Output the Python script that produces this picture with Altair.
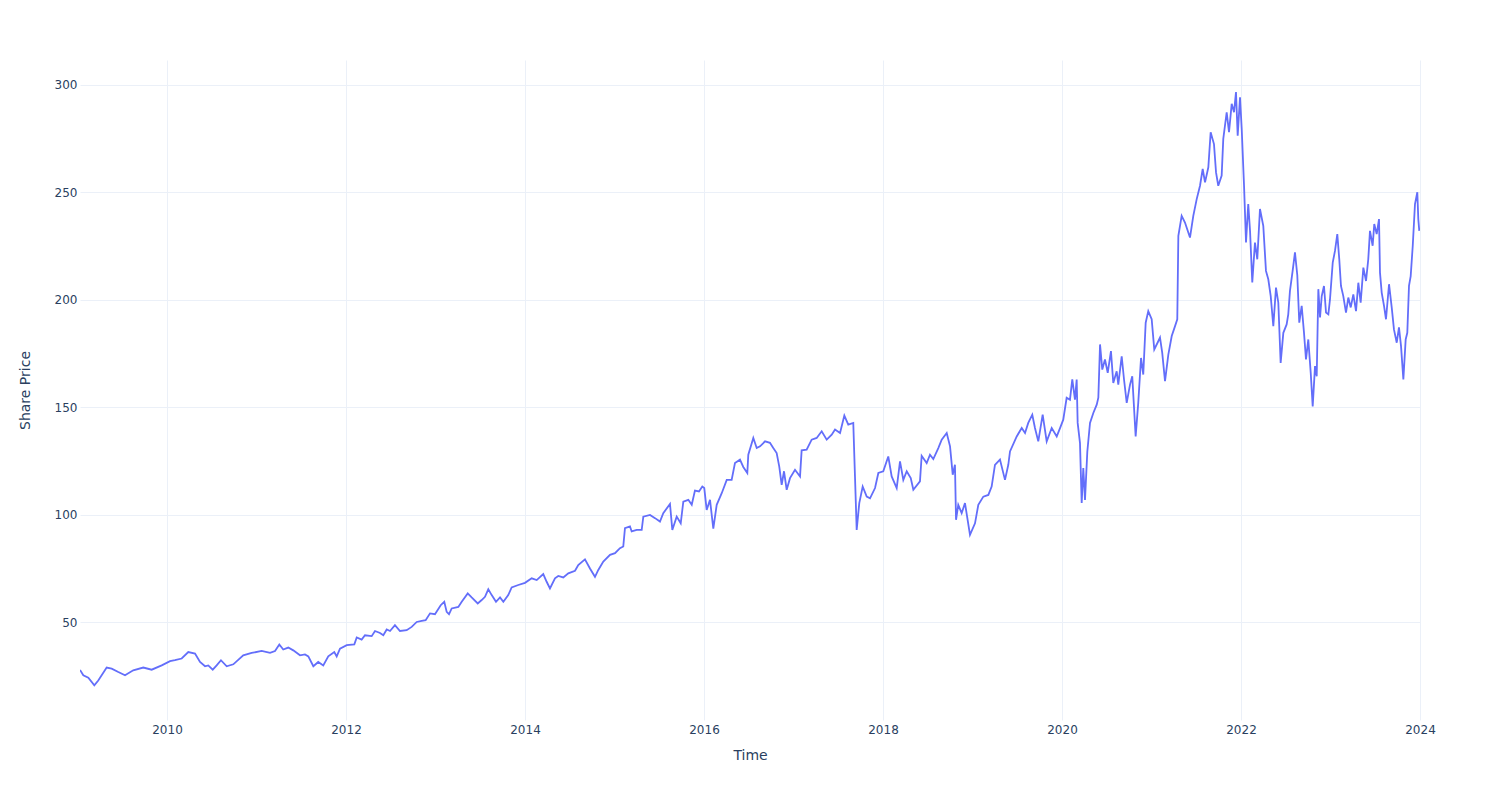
import altair as alt
import pandas as pd

# Time expressed as decimal year
years = [
    2009.028, 2009.065, 2009.121, 2009.188, 2009.232, 2009.326, 2009.382, 2009.456, 2009.531, 2009.623,
    2009.735, 2009.829, 2009.941, 2010.034, 2010.089, 2010.164, 2010.238, 2010.313, 2010.369, 2010.425,
    2010.461, 2010.511, 2010.555, 2010.603, 2010.667, 2010.741, 2010.852, 2010.946, 2011.058, 2011.151,
    2011.207, 2011.255, 2011.299, 2011.355, 2011.411, 2011.486, 2011.542, 2011.579, 2011.635, 2011.690,
    2011.746, 2011.802, 2011.869, 2011.896, 2011.933, 2012.008, 2012.093, 2012.120, 2012.175, 2012.212,
    2012.287, 2012.324, 2012.380, 2012.417, 2012.455, 2012.492, 2012.547, 2012.603, 2012.678, 2012.734,
    2012.790, 2012.846, 2012.890, 2012.939, 2012.994, 2013.058, 2013.098, 2013.125, 2013.151, 2013.181,
    2013.255, 2013.293, 2013.360, 2013.404, 2013.472, 2013.516, 2013.553, 2013.590, 2013.628, 2013.676,
    2013.721, 2013.758, 2013.813, 2013.851, 2013.925, 2014.000, 2014.075, 2014.131, 2014.204, 2014.242,
    2014.279, 2014.335, 2014.372, 2014.428, 2014.484, 2014.559, 2014.595, 2014.670, 2014.726, 2014.782,
    2014.819, 2014.875, 2014.950, 2015.006, 2015.061, 2015.098, 2015.117, 2015.173, 2015.192, 2015.248,
    2015.304, 2015.322, 2015.397, 2015.453, 2015.508, 2015.545, 2015.620, 2015.646, 2015.695, 2015.740,
    2015.769, 2015.825, 2015.863, 2015.899, 2015.944, 2015.981, 2016.003, 2016.030, 2016.067, 2016.104,
    2016.142, 2016.198, 2016.254, 2016.309, 2016.346, 2016.402, 2016.439, 2016.484, 2016.495, 2016.551,
    2016.589, 2016.626, 2016.682, 2016.737, 2016.774, 2016.812, 2016.841, 2016.868, 2016.894, 2016.924,
    2016.961, 2017.017, 2017.073, 2017.091, 2017.147, 2017.203, 2017.259, 2017.315, 2017.371, 2017.427,
    2017.464, 2017.520, 2017.568, 2017.612, 2017.668, 2017.687, 2017.706, 2017.735, 2017.773, 2017.818,
    2017.855, 2017.911, 2017.948, 2018.003, 2018.059, 2018.097, 2018.153, 2018.190, 2018.227, 2018.265,
    2018.310, 2018.339, 2018.413, 2018.432, 2018.488, 2018.525, 2018.562, 2018.618, 2018.656, 2018.712,
    2018.749, 2018.779, 2018.804, 2018.816, 2018.841, 2018.879, 2018.916, 2018.972, 2019.028, 2019.065,
    2019.121, 2019.177, 2019.214, 2019.251, 2019.307, 2019.363, 2019.400, 2019.419, 2019.494, 2019.550,
    2019.587, 2019.623, 2019.668, 2019.698, 2019.735, 2019.784, 2019.829, 2019.885, 2019.941, 2019.978,
    2020.014, 2020.052, 2020.089, 2020.115, 2020.145, 2020.164, 2020.175, 2020.201, 2020.220, 2020.238,
    2020.257, 2020.283, 2020.313, 2020.350, 2020.388, 2020.406, 2020.425, 2020.450, 2020.480, 2020.511,
    2020.547, 2020.573, 2020.611, 2020.629, 2020.667, 2020.693, 2020.723, 2020.760, 2020.785, 2020.823,
    2020.852, 2020.883, 2020.908, 2020.935, 2020.964, 2021.002, 2021.031, 2021.069, 2021.095, 2021.120,
    2021.151, 2021.188, 2021.226, 2021.263, 2021.288, 2021.300, 2021.337, 2021.374, 2021.430, 2021.467,
    2021.505, 2021.542, 2021.572, 2021.598, 2021.635, 2021.661, 2021.698, 2021.721, 2021.746, 2021.784,
    2021.802, 2021.840, 2021.866, 2021.896, 2021.922, 2021.944, 2021.963, 2021.989, 2022.008, 2022.034,
    2022.056, 2022.081, 2022.101, 2022.126, 2022.156, 2022.182, 2022.212, 2022.249, 2022.279, 2022.305,
    2022.332, 2022.361, 2022.391, 2022.417, 2022.443, 2022.473, 2022.510, 2022.528, 2022.547, 2022.577,
    2022.603, 2022.629, 2022.651, 2022.678, 2022.704, 2022.726, 2022.752, 2022.779, 2022.801, 2022.827,
    2022.846, 2022.864, 2022.883, 2022.902, 2022.927, 2022.950, 2022.976, 2022.994, 2023.025, 2023.050,
    2023.076, 2023.098, 2023.117, 2023.143, 2023.173, 2023.199, 2023.226, 2023.255, 2023.285, 2023.311,
    2023.337, 2023.367, 2023.397, 2023.422, 2023.441, 2023.471, 2023.489, 2023.516, 2023.542, 2023.553,
    2023.572, 2023.598, 2023.620, 2023.654, 2023.684, 2023.709, 2023.740, 2023.765, 2023.788, 2023.814,
    2023.840, 2023.858, 2023.877, 2023.896, 2023.919, 2023.944, 2023.970, 2023.981, 2023.992,
]

prices = [
    27.8, 25.3, 24.2, 20.6, 22.9, 28.9, 28.4, 26.8, 25.3, 27.6,
    28.9, 27.9, 29.9, 31.9, 32.3, 33.1, 36.1, 35.4, 31.5, 29.5,
    29.9, 27.9, 29.9, 32.3, 29.5, 30.4, 34.6, 35.7, 36.6, 35.7,
    36.6, 39.6, 37.3, 38.2, 36.9, 34.6, 35.0, 34.1, 29.5, 31.5,
    29.9, 34.1, 36.1, 34.1, 37.7, 39.3, 39.7, 42.9, 41.9, 43.9,
    43.5, 45.9, 45.0, 43.9, 46.6, 45.9, 48.6, 45.9, 46.3, 47.8,
    50.1, 50.6, 50.9, 54.1, 53.7, 57.9, 59.5, 54.8, 53.7, 56.4,
    57.1, 59.5, 63.4, 61.5, 58.7, 60.3, 61.8, 65.3, 62.6, 59.5,
    61.5, 59.5, 62.6, 66.2, 67.3, 68.3, 70.4, 69.6, 72.4, 68.8,
    65.7, 70.4, 71.5, 70.8, 72.7, 73.9, 76.6, 79.2, 75.0, 71.1,
    74.3, 78.2, 81.3, 82.1, 84.4, 85.2, 93.7, 94.5, 92.2, 92.9,
    92.9, 99.1, 99.9, 98.4, 96.8, 100.7, 105.0, 92.9, 99.1, 96.0,
    106.1, 106.9, 104.6, 111.2, 110.8, 113.1, 112.4, 102.2, 106.9, 93.5,
    104.6, 110.0, 116.2, 116.2, 124.0, 125.6, 122.2, 119.4, 127.9, 135.7,
    131.0, 131.8, 134.1, 133.4, 131.0, 128.7, 122.4, 113.9, 120.2, 111.6,
    117.0, 120.9, 117.8, 129.9, 130.2, 134.9, 135.7, 138.8, 134.9, 137.2,
    139.6, 138.0, 146.1, 141.9, 142.7, 117.8, 92.9, 105.4, 113.1, 108.4,
    107.6, 112.4, 119.4, 120.2, 127.1, 117.8, 112.4, 124.8, 116.2, 120.2,
    117.0, 111.6, 115.5, 127.4, 124.0, 127.9, 125.9, 131.0, 134.9, 138.0,
    131.8, 118.6, 123.2, 97.6, 104.6, 100.7, 105.4, 90.6, 96.0, 104.6,
    108.4, 109.2, 113.1, 123.2, 125.6, 116.2, 123.2, 129.4, 136.4, 140.3,
    138.0, 142.7, 146.5, 140.3, 134.1, 146.5, 134.1, 140.3, 136.4, 140.3,
    144.2, 154.4, 153.5, 162.9, 153.5, 162.9, 142.7, 133.3, 105.4, 121.7,
    106.9, 129.4, 142.7, 147.3, 151.2, 154.4, 179.2, 167.5, 172.2, 166.0,
    176.1, 161.3, 166.7, 160.5, 173.7, 162.9, 152.0, 160.5, 164.4, 136.4,
    152.0, 172.9, 165.2, 189.3, 194.7, 190.9, 176.9, 180.1, 182.4, 175.3,
    162.1, 174.5, 183.1, 187.7, 190.9, 229.7, 239.0, 235.9, 228.9, 239.0,
    246.8, 253.0, 260.8, 254.6, 261.6, 277.9, 272.4, 259.2, 253.0, 257.7,
    274.8, 287.2, 277.9, 291.1, 287.2, 296.6, 276.3, 294.2, 279.4, 253.0,
    226.6, 244.5, 232.0, 208.0, 226.6, 218.8, 242.2, 234.4, 213.4, 209.5,
    201.7, 187.7, 205.6, 198.6, 170.6, 184.6, 188.5, 193.2, 204.1, 213.4,
    222.0, 211.4, 189.3, 197.1, 184.6, 172.2, 181.5, 166.0, 150.4, 169.1,
    164.4, 204.9, 191.7, 201.7, 206.4, 194.0, 193.2, 200.0, 217.3, 222.7,
    230.5, 218.8, 206.4, 201.7, 194.0, 201.0, 196.4, 202.5, 194.7, 207.9,
    198.6, 214.9, 208.7, 218.8, 232.0, 225.1, 235.2, 230.5, 237.5, 212.6,
    203.3, 197.1, 190.9, 207.2, 196.4, 186.2, 180.0, 187.1, 178.4, 162.9,
    181.5, 184.6, 206.4, 211.0, 225.1, 244.5, 250.0, 237.5, 232.0,
]

x_ticks = [2010, 2012, 2014, 2016, 2018, 2020, 2022, 2024]
y_ticks = [50, 100, 150, 200, 250, 300]

df = pd.DataFrame({"Time": years, "Share Price": prices})

FONT = "DejaVu Sans"
TEXT = "#2a3f5f"
GRID = "#EBF0F8"

chart = (
    alt.Chart(df)
    .mark_line(color="#636efa", strokeWidth=1.8, clip=True)
    .encode(
        x=alt.X(
            "Time:Q",
            scale=alt.Scale(domain=[2009.028, 2024.0], nice=False, zero=False),
            axis=alt.Axis(
                values=x_ticks, format="d", title="Time",
                grid=True, gridColor=GRID, gridWidth=1,
                domain=False, ticks=False, labelPadding=4,
                labelFont=FONT, labelFontSize=12, labelColor=TEXT,
                titleFont=FONT, titleFontSize=14, titleColor=TEXT,
                titleFontWeight="normal", titlePadding=13,
                labelFlush=False,
            ),
        ),
        y=alt.Y(
            "Share Price:Q",
            scale=alt.Scale(domain=[4.5, 311.5], nice=False, zero=False),
            axis=alt.Axis(
                values=y_ticks, title="Share Price",
                grid=True, gridColor=GRID, gridWidth=1,
                domain=False, ticks=False, labelPadding=3,
                labelFont=FONT, labelFontSize=12, labelColor=TEXT,
                titleFont=FONT, titleFontSize=14, titleColor=TEXT,
                titleFontWeight="normal", titlePadding=22,
            ),
        ),
    )
    .properties(
        width=1340,
        height=660,
        autosize=alt.AutoSizeParams(type="none"),
        padding={"left": 80, "top": 60, "right": 80, "bottom": 80},
        background="white",
    )
    .configure_view(stroke=None)
)

chart.save("out.html", embed_options={"renderer": "svg", "actions": False})
